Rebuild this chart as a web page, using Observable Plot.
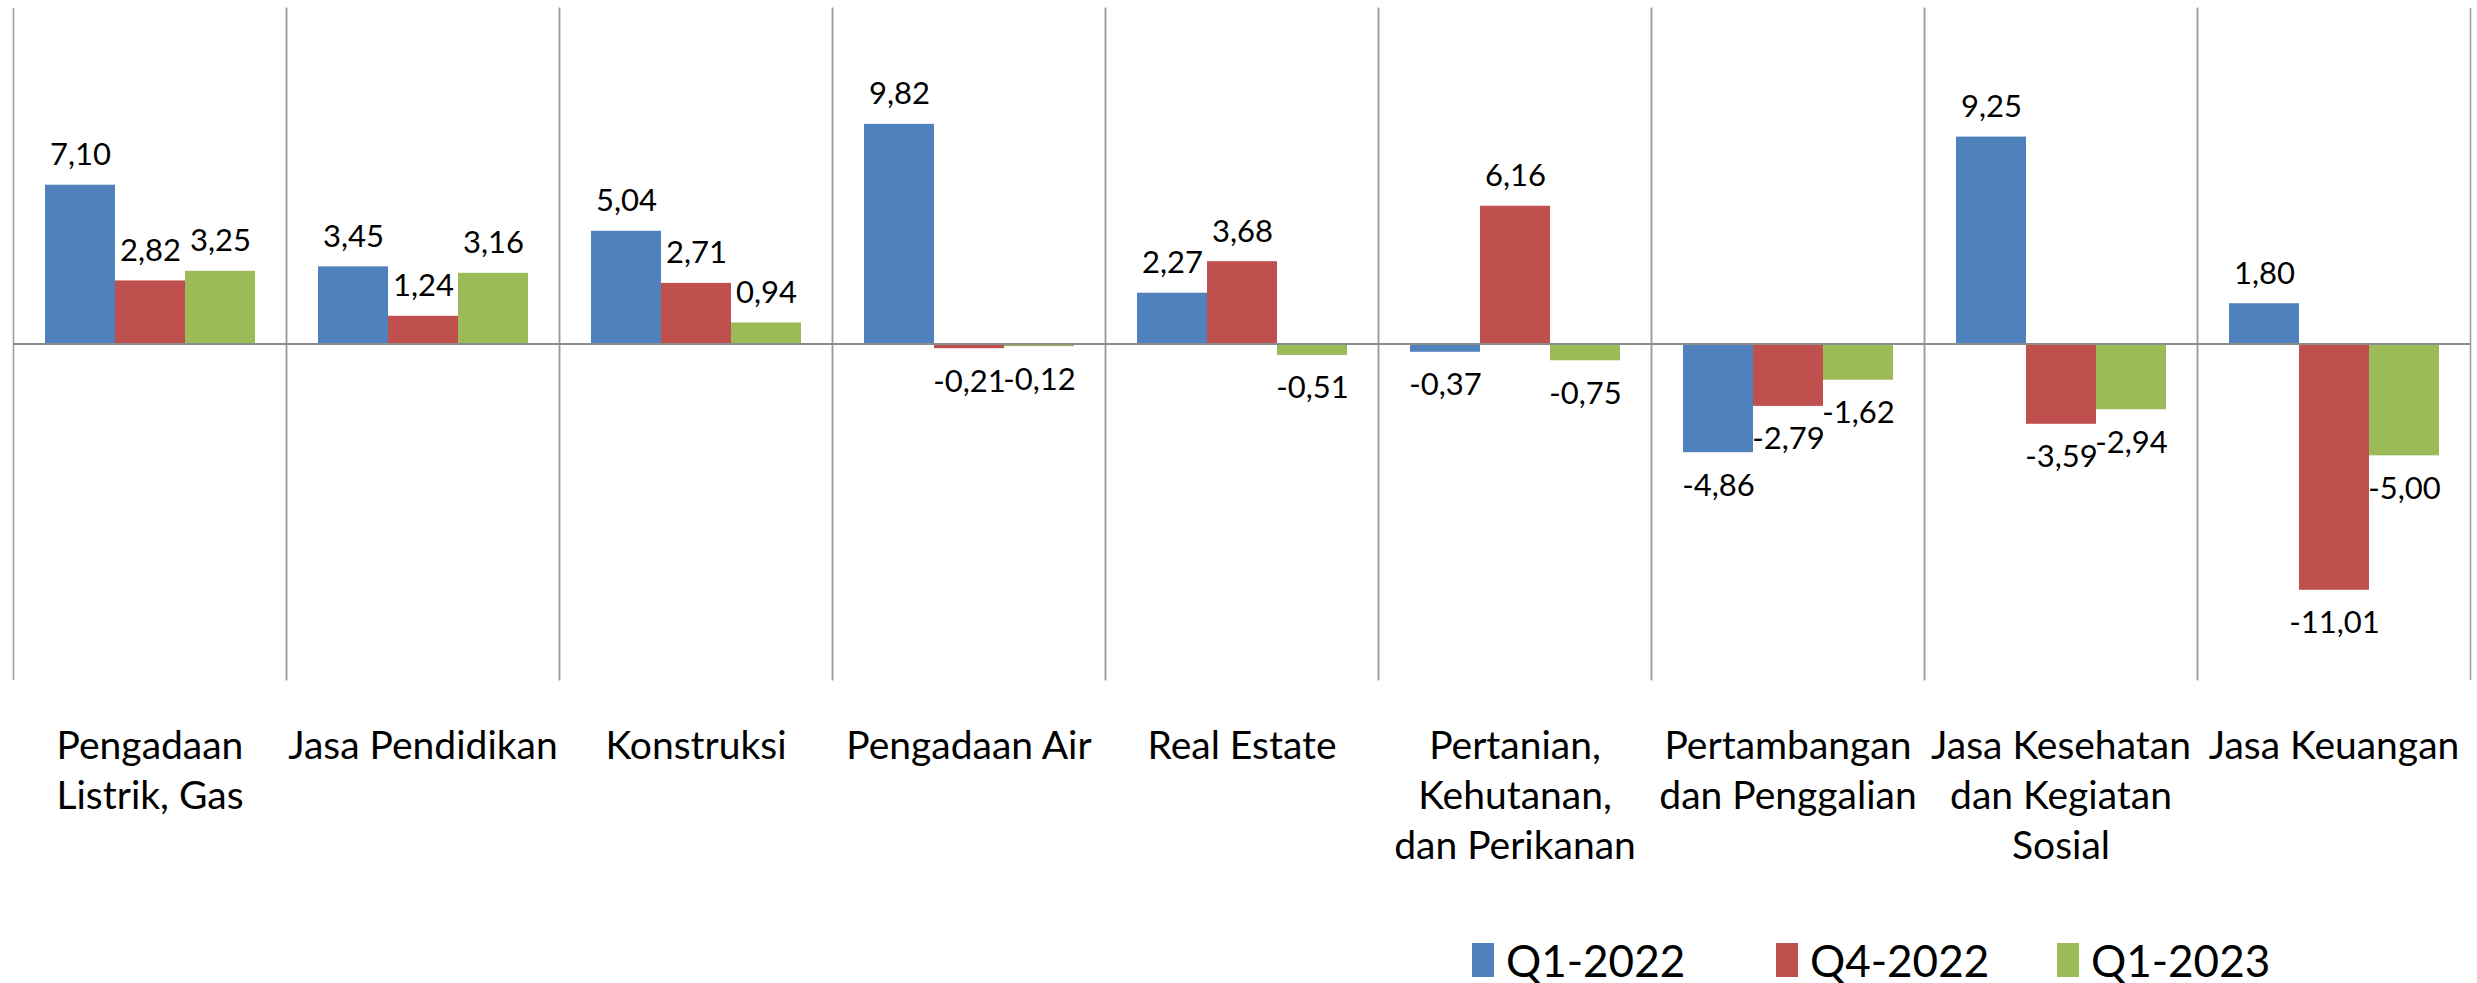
<!DOCTYPE html>
<html>
<head>
<meta charset="utf-8">
<script src="https://cdn.jsdelivr.net/npm/d3@7"></script>
<script src="https://cdn.jsdelivr.net/npm/@observablehq/plot@0.6"></script>
<style>
  html, body { margin: 0; padding: 0; background: #fff; }
  body { width: 2477px; height: 983px; overflow: hidden; font-family: Lato, "Open Sans", sans-serif; }
  #legend { position: relative; height: 65px; }
  .item { position: absolute; top: 8px; height: 68px; display: flex; align-items: center; font-size: 44px; color: #000; }
  .sw { width: 22px; height: 34px; margin-right: 12px; }
</style>
</head>
<body>
<div id="chart"></div>
<div id="legend"></div>
<script>
const categories = ["Pengadaan Listrik, Gas", "Jasa Pendidikan", "Konstruksi", "Pengadaan Air", "Real Estate", "Pertanian, Kehutanan, dan Perikanan", "Pertambangan dan Penggalian", "Jasa Kesehatan dan Kegiatan Sosial", "Jasa Keuangan"];
const tickLabels = ["Pengadaan\nListrik, Gas", "Jasa Pendidikan", "Konstruksi", "Pengadaan Air", "Real Estate", "Pertanian,\nKehutanan,\ndan Perikanan", "Pertambangan\ndan Penggalian", "Jasa Kesehatan\ndan Kegiatan\nSosial", "Jasa Keuangan"];
const series = ["Q1-2022", "Q4-2022", "Q1-2023"];
const colors = ["#4F81BD", "#C0504D", "#9BBB59"];
const q1_2022 = [7.10, 3.45, 5.04, 9.82, 2.27, -0.37, -4.86, 9.25, 1.80];
const q4_2022 = [2.82, 1.24, 2.71, -0.21, 3.68, 6.16, -2.79, -3.59, -11.01];
const q1_2023 = [3.25, 3.16, 0.94, -0.12, -0.51, -0.75, -1.62, -2.94, -5.00];

const values = [q1_2022, q4_2022, q1_2023];
const data = [];
categories.forEach((c, i) => series.forEach((s, j) => data.push({category: c, series: s, value: values[j][i]})));
const labelOf = new Map(categories.map((c, i) => [c, tickLabels[i]]));
const fmt = v => v.toFixed(2).replace(".", ",");

const H = 918;
const chart = Plot.plot({
  width: 2477,
  height: H,
  marginLeft: 10,
  marginRight: 5,
  marginTop: 8,
  marginBottom: H - 679,
  style: {fontFamily: "Lato, 'Open Sans', sans-serif", background: "#fff", color: "#000"},
  fx: {domain: categories, padding: 0},
  x: {domain: series, paddingInner: 0, paddingOuter: 0.45, axis: null},
  y: {domain: [-15, 15], axis: null},
  color: {domain: series, range: colors},
  marks: [
    Plot.frame({anchor: "left", stroke: "#9a9a9a", strokeWidth: 1.5}),
    Plot.frame({anchor: "right", stroke: "#9a9a9a", strokeWidth: 1.5}),
    Plot.barY(data, {fx: "category", x: "series", y: "value", fill: "series"}),
    Plot.ruleY([0], {stroke: "#8c8c8c", strokeWidth: 2}),
    Plot.text(data.filter(d => d.value >= 0), {fx: "category", x: "series", y: "value", text: d => fmt(d.value), dy: -30, fontSize: 31, fill: "#000"}),
    Plot.text(data.filter(d => d.value < 0), {fx: "category", x: "series", y: "value", text: d => fmt(d.value), dy: 33, fontSize: 31, fill: "#000"}),
    Plot.axisFx({anchor: "bottom", tickSize: 0, tickPadding: 44, fontSize: 39, lineHeight: 1.28, label: null, tickFormat: c => labelOf.get(c), fill: "#000"})
  ]
});
document.getElementById("chart").appendChild(chart);

const legendX = [1472, 1776, 2057];
const legend = document.getElementById("legend");
series.forEach((s, i) => {
  const item = document.createElement("div");
  item.className = "item";
  item.style.left = legendX[i] + "px";
  const sw = document.createElement("div");
  sw.className = "sw";
  sw.style.background = colors[i];
  const t = document.createElement("span");
  t.textContent = s;
  item.appendChild(sw);
  item.appendChild(t);
  legend.appendChild(item);
});
</script>
</body>
</html>
